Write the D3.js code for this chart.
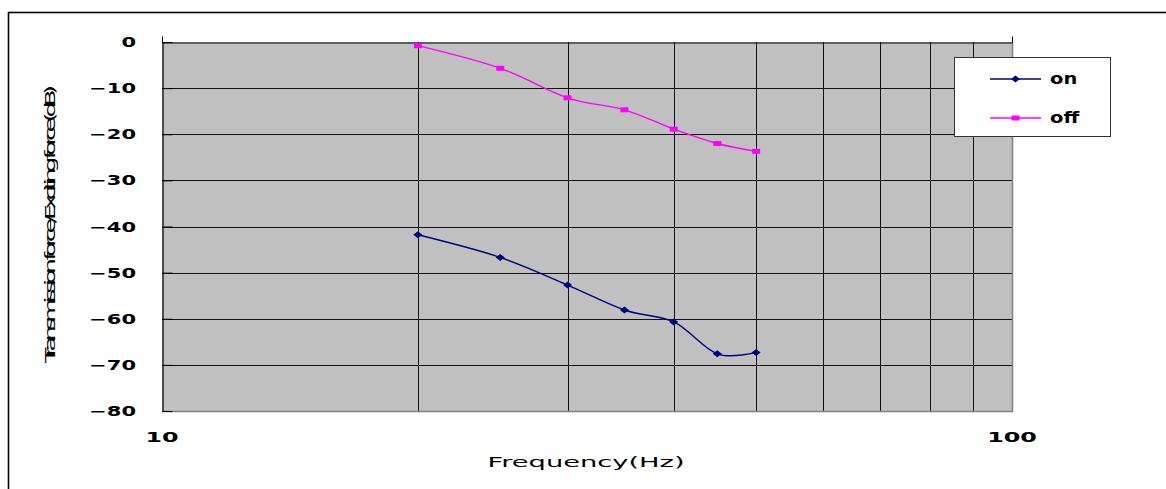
<!DOCTYPE html>
<html>
<head>
<meta charset="utf-8">
<script src="https://cdn.jsdelivr.net/npm/d3@7"></script>
<style>
  body { margin: 0; background: #fff; }
  svg { display: block; }
  text { font-family: "DejaVu Sans", sans-serif; fill: #000; }
</style>
</head>
<body>
<div id="chart"></div>
<script>
// frequencies (Hz) and measured transmission ratio (dB)
const freq = [20, 25, 30, 35, 40, 45, 50];
const onVals = [-41.8, -46.7, -52.7, -58.1, -60.7, -67.6, -67.3];
const offVals = [-0.8, -5.7, -12.1, -14.7, -18.9, -22.0, -23.7];
const seriesNames = ["on", "off"];
const yTicks = [0, -10, -20, -30, -40, -50, -60, -70, -80];
const xTicks = [10, 100];
const xGrid = [20, 30, 40, 50, 60, 70, 80, 90];

const W = 1166, H = 489;
const pLeft = 162, pRight = 1012, pTop = 42, pBottom = 411;

const svg = d3.select("#chart").append("svg").attr("width", W).attr("height", H);

// outer chart frame (runs off the picture at right/bottom)
svg.append("rect").attr("x", 8.5).attr("y", 12.5).attr("width", 1300).attr("height", 700)
  .attr("fill", "none").attr("stroke", "#000").attr("stroke-width", 1.6);

const x = d3.scaleLog().domain([10, 100]).range([pLeft, pRight]);
const y = d3.scaleLinear().domain([-80, 0]).range([pBottom, pTop]);

const minus = d => d < 0 ? "\u2212" + Math.abs(d) : String(d);

// plot area
svg.append("rect").attr("x", pLeft).attr("y", pTop).attr("width", pRight - pLeft).attr("height", pBottom - pTop)
  .attr("fill", "#c0c0c0");

// grid
svg.append("g").selectAll("line").data(yTicks.filter(d => d != 0 && d != -80)).enter().append("line")
  .attr("x1", pLeft).attr("x2", pRight).attr("y1", d => Math.round(y(d)) + 0.5).attr("y2", d => Math.round(y(d)) + 0.5)
  .attr("stroke", "#111").attr("stroke-width", 1);
svg.append("g").selectAll("line").data(xGrid).enter().append("line")
  .attr("y1", pTop).attr("y2", pBottom).attr("x1", d => Math.round(x(d)) + 0.5).attr("x2", d => Math.round(x(d)) + 0.5)
  .attr("stroke", "#111").attr("stroke-width", 1);

// gray right / bottom border
svg.append("path").attr("d", `M${pLeft},${pBottom + 0.5}H${pRight + 0.5}V${pTop}`)
  .attr("fill", "none").attr("stroke", "#808080").attr("stroke-width", 1.5);

// y axis with inward ticks (labels drawn separately, stretched)
const yAxis = svg.append("g").attr("transform", `translate(${pLeft + 0.5},0)`)
  .call(d3.axisLeft(y).tickValues(yTicks).tickSizeInner(-10).tickSizeOuter(0).tickFormat(""));
yAxis.select(".domain").attr("stroke", "#000").attr("stroke-width", 1.2);
yAxis.selectAll(".tick line").attr("stroke", "#000");

svg.append("g").selectAll("text").data(yTicks).enter().append("text")
  .attr("transform", d => `translate(136,${y(d) + 5}) scale(1.5,1)`)
  .attr("text-anchor", "end").attr("font-size", 14).attr("font-weight", "bold")
  .text(minus);

// x axis line at top (value 0) with upward ticks
const xTop = svg.append("g").attr("transform", `translate(0,${pTop + 0.5})`)
  .call(d3.axisTop(x).tickValues(xTicks).tickSizeInner(6).tickSizeOuter(0).tickFormat(""));
xTop.select(".domain").attr("stroke", "#000").attr("stroke-width", 1.2);
xTop.selectAll(".tick line").attr("stroke", "#000");

// x labels at the bottom
svg.append("g").selectAll("text").data(xTicks).enter().append("text")
  .attr("transform", d => `translate(${x(d)},442) scale(1.7,1)`)
  .attr("text-anchor", "middle").attr("font-size", 14).attr("font-weight", "bold")
  .text(d3.format("d"));

// axis titles
svg.append("text").attr("transform", "translate(586,467) scale(1.95,1)")
  .attr("text-anchor", "middle").attr("font-size", 14).text("Frequency(Hz)");

svg.append("text").attr("transform", "translate(55,224) rotate(-90) scale(1.8,1)")
  .attr("text-anchor", "middle").attr("font-size", 14)
  .attr("textLength", 278 / 1.8).attr("lengthAdjust", "spacing")
  .text("Transmission force/Exciting force(dB)");

// series
const series = [
  { name: seriesNames[0], vals: onVals, color: "#000080", marker: "diamond" },
  { name: seriesNames[1], vals: offVals, color: "#ff00ff", marker: "square" }
];
const line = d3.line().x(d => x(d[0])).y(d => y(d[1])).curve(d3.curveCardinal.tension(0));

function drawMarker(g, type, color) {
  if (type == "diamond") {
    g.append("path").attr("d", "M0,-3.5L4.5,0L0,3.5L-4.5,0Z").attr("fill", color);
  } else {
    g.append("rect").attr("x", -4).attr("y", -2.5).attr("width", 8).attr("height", 5).attr("fill", color);
  }
}

series.forEach(s => {
  const pts = freq.map((f, i) => [f, s.vals[i]]);
  svg.append("path").attr("d", line(pts)).attr("fill", "none").attr("stroke", s.color).attr("stroke-width", 1.4);
  pts.forEach(p => {
    const g = svg.append("g").attr("transform", `translate(${x(p[0])},${y(p[1])})`);
    drawMarker(g, s.marker, s.color);
  });
});

// legend
svg.append("rect").attr("x", 954.5).attr("y", 57.5).attr("width", 156).attr("height", 79)
  .attr("fill", "#fff").attr("stroke", "#333").attr("stroke-width", 1);
series.forEach((s, i) => {
  const ly = 79 + i * 39;
  svg.append("line").attr("x1", 990).attr("x2", 1041).attr("y1", ly).attr("y2", ly)
    .attr("stroke", s.color).attr("stroke-width", 1.4);
  drawMarker(svg.append("g").attr("transform", `translate(1015.5,${ly})`), s.marker, s.color);
  svg.append("text").attr("transform", `translate(1050,${ly + 5}) scale(1.3,1)`)
    .attr("font-size", 15).attr("font-weight", "bold").text(s.name);
});
</script>
</body>
</html>
